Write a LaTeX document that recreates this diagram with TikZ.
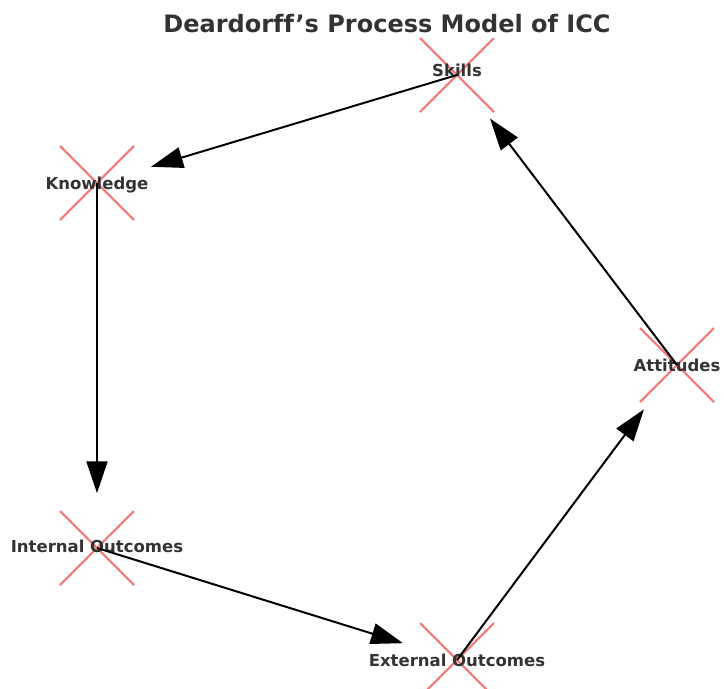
\documentclass[tikz,border=0pt]{standalone}
\usepackage{fontspec}
\setmainfont{DejaVu Sans}[Ligatures=NoCommon]
\usepackage{tikz}
\usetikzlibrary{
    arrows.meta,
    calc
}
\definecolor{inkgray}{HTML}{333333}
\definecolor{crossred}{RGB}{240,128,128}
\tikzset{
    crossmark/.style={draw=crossred, line width=2.3pt},
    stagelabel/.style={font=\bfseries\fontsize{16.5}{19}\selectfont, text=inkgray,
        inner sep=0pt, text height=12pt, text depth=0pt},
    flow/.style={draw=black, line width=2pt, -{Triangle[length=32pt, width=21pt]}}
}

\begin{document}
\begin{tikzpicture}[x=1pt, y=-1pt]
    \useasboundingbox (0, 0) rectangle (724, 689);
    \node[font=\bfseries\fontsize{24}{28}\selectfont, text=inkgray, inner sep=0pt,
        text height=17.5pt, text depth=0pt] (title) at (387, 23.5) {Deardorff’s Process Model of ICC};
    % stage positions
    \coordinate (s) at (457, 75);
    \coordinate (k) at (97, 183);
    \coordinate (io) at (97, 548);
    \coordinate (eo) at (457, 660);
    \coordinate (a) at (677, 365);
    \foreach \p in {s, k, io, eo, a}
        \draw[crossmark]
        ($(\p) + (-37, -37)$) -- ($(\p) + (37, 37)$)
        ($(\p) + (-37, 37)$) -- ($(\p) + (37, -37)$);
    \node[stagelabel] (skills) at ($(s) + (0, -5)$) {Skills};
    \node[stagelabel] (knowledge) at (k) {Knowledge};
    \node[stagelabel] (internal) at ($(io) + (0, -1.5)$) {Internal Outcomes};
    \node[stagelabel] (external) at (eo) {External Outcomes};
    \node[stagelabel] (attitudes) at (a) {Attitudes};
    % cycle
    \draw[flow] (s) -- ($(s)!0.85!(k)$);
    \draw[flow] (k) -- ($(k)!0.85!(io)$);
    \draw[flow] (io) -- ($(io)!0.85!(eo)$);
    \draw[flow] (eo) -- ($(eo)!0.85!(a)$);
    \draw[flow] (a) -- ($(a)!0.85!(s)$);
\end{tikzpicture}
\end{document}
